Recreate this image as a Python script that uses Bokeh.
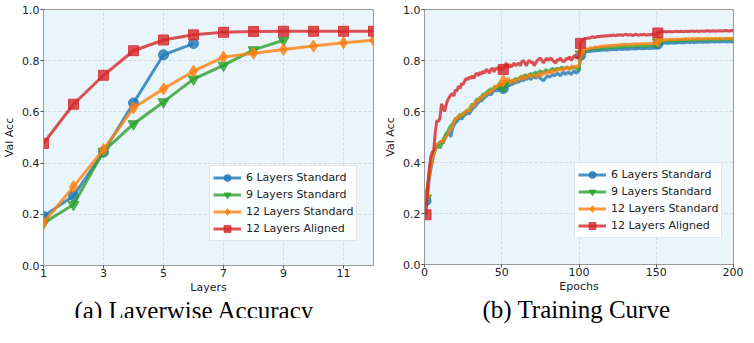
from bokeh.plotting import figure
from bokeh.models import Legend, LegendItem, FixedTicker, NumeralTickFormatter, Range1d, Title
from bokeh.layouts import row
from bokeh.embed import file_html
from bokeh.resources import INLINE

# ---------------- data ----------------
series_names = ["6 Layers Standard", "9 Layers Standard", "12 Layers Standard", "12 Layers Aligned"]
colors = ["#1f77b4", "#2ca02c", "#ff7f0e", "#d62728"]
markers = ["circle", "inverted_triangle", "diamond", "square"]
captions = ["(a) Layerwise Accuracy", "(b) Training Curve"]

# (a) layerwise accuracy
layers_6 = [1, 2, 3, 4, 5, 6]
acc_6 = [0.192, 0.272, 0.443, 0.635, 0.823, 0.867]
layers_9 = [1, 2, 3, 4, 5, 6, 7, 8, 9]
acc_9 = [0.165, 0.238, 0.446, 0.553, 0.639, 0.728, 0.782, 0.842, 0.880]
layers_12 = [1, 2, 3, 4, 5, 6, 7, 8, 9, 10, 11, 12]
acc_12 = [0.167, 0.308, 0.453, 0.616, 0.690, 0.759, 0.814, 0.829, 0.844, 0.857, 0.870, 0.880]
acc_12_aligned = [0.477, 0.630, 0.743, 0.839, 0.881, 0.901, 0.911, 0.914, 0.915, 0.915, 0.915, 0.915]
layer_ticks = [1, 3, 5, 7, 9, 11]
acc_ticks = [0.0, 0.2, 0.4, 0.6, 0.8, 1.0]

# (b) training curve (val acc per epoch)
epochs = list(range(1, 201))
marker_epochs = [1, 51, 101, 151]
epoch_ticks = [0, 50, 100, 150, 200]

curve_6 = [
    0.25, 0.27, 0.33, 0.37, 0.40, 0.43, 0.45, 0.465, 0.47, 0.48,
    0.48, 0.475, 0.49, 0.505, 0.51, 0.52, 0.50, 0.53, 0.545, 0.555,
    0.56, 0.57, 0.575, 0.57, 0.58, 0.585, 0.59, 0.595, 0.59, 0.60,
    0.61, 0.615, 0.62, 0.63, 0.635, 0.645, 0.64, 0.65, 0.655, 0.66,
    0.665, 0.67, 0.665, 0.675, 0.68, 0.685, 0.68, 0.69, 0.695, 0.685,
    0.69, 0.70, 0.695, 0.705, 0.70, 0.71, 0.705, 0.715, 0.71, 0.72,
    0.715, 0.72, 0.725, 0.72, 0.73, 0.725, 0.735, 0.73, 0.725, 0.735,
    0.74, 0.73, 0.735, 0.74, 0.73, 0.725, 0.72, 0.73, 0.735, 0.74,
    0.735, 0.74, 0.745, 0.74, 0.745, 0.75, 0.745, 0.74, 0.75, 0.755,
    0.745, 0.75, 0.755, 0.75, 0.745, 0.755, 0.76, 0.75, 0.755, 0.76,
    0.82, 0.825, 0.83, 0.832, 0.834, 0.836, 0.835, 0.838, 0.837, 0.839,
    0.838, 0.840, 0.839, 0.841, 0.840, 0.842, 0.841, 0.840, 0.842, 0.843,
    0.842, 0.844, 0.843, 0.842, 0.844, 0.845, 0.844, 0.843, 0.845, 0.846,
    0.845, 0.844, 0.846, 0.847, 0.846, 0.845, 0.847, 0.846, 0.848, 0.847,
    0.846, 0.848, 0.847, 0.849, 0.848, 0.847, 0.849, 0.848, 0.850, 0.849,
    0.864, 0.866, 0.867, 0.868, 0.867, 0.869, 0.868, 0.867, 0.869, 0.870,
    0.869, 0.868, 0.870, 0.869, 0.871, 0.870, 0.869, 0.871, 0.870, 0.872,
    0.871, 0.870, 0.872, 0.871, 0.870, 0.872, 0.871, 0.873, 0.872, 0.871,
    0.873, 0.872, 0.871, 0.873, 0.872, 0.874, 0.873, 0.872, 0.874, 0.873,
    0.872, 0.874, 0.873, 0.874, 0.873, 0.872, 0.874, 0.873, 0.874, 0.873,
]
curve_9 = [
    0.26, 0.31, 0.35, 0.39, 0.42, 0.44, 0.455, 0.46, 0.47, 0.455,
    0.47, 0.49, 0.50, 0.515, 0.52, 0.535, 0.545, 0.55, 0.56, 0.57,
    0.575, 0.58, 0.59, 0.58, 0.595, 0.59, 0.605, 0.60, 0.61, 0.62,
    0.63, 0.625, 0.64, 0.65, 0.645, 0.655, 0.66, 0.67, 0.665, 0.675,
    0.68, 0.685, 0.69, 0.685, 0.695, 0.70, 0.69, 0.705, 0.695, 0.68,
    0.70, 0.71, 0.705, 0.715, 0.72, 0.715, 0.72, 0.725, 0.73, 0.725,
    0.73, 0.735, 0.74, 0.73, 0.745, 0.74, 0.735, 0.745, 0.75, 0.74,
    0.75, 0.755, 0.745, 0.755, 0.76, 0.75, 0.755, 0.76, 0.765, 0.755,
    0.76, 0.765, 0.77, 0.76, 0.765, 0.77, 0.765, 0.77, 0.775, 0.765,
    0.77, 0.775, 0.77, 0.765, 0.775, 0.77, 0.775, 0.77, 0.765, 0.76,
    0.825, 0.83, 0.835, 0.838, 0.84, 0.842, 0.843, 0.845, 0.844, 0.846,
    0.847, 0.848, 0.847, 0.849, 0.850, 0.849, 0.851, 0.850, 0.852, 0.851,
    0.852, 0.853, 0.852, 0.854, 0.853, 0.855, 0.854, 0.853, 0.855, 0.856,
    0.855, 0.854, 0.856, 0.855, 0.857, 0.856, 0.855, 0.857, 0.856, 0.858,
    0.857, 0.856, 0.858, 0.857, 0.859, 0.858, 0.857, 0.859, 0.858, 0.859,
    0.872, 0.874, 0.875, 0.876, 0.875, 0.877, 0.876, 0.877, 0.878, 0.877,
    0.878, 0.877, 0.878, 0.879, 0.878, 0.877, 0.879, 0.878, 0.879, 0.880,
    0.879, 0.878, 0.880, 0.879, 0.880, 0.881, 0.880, 0.879, 0.881, 0.880,
    0.881, 0.880, 0.882, 0.881, 0.880, 0.882, 0.881, 0.882, 0.881, 0.882,
    0.883, 0.882, 0.881, 0.883, 0.882, 0.883, 0.882, 0.884, 0.883, 0.882,
]
curve_12 = [
    0.27, 0.30, 0.34, 0.38, 0.41, 0.43, 0.45, 0.47, 0.475, 0.48,
    0.485, 0.48, 0.49, 0.50, 0.51, 0.525, 0.53, 0.54, 0.56, 0.575,
    0.57, 0.585, 0.58, 0.59, 0.585, 0.60, 0.595, 0.61, 0.60, 0.615,
    0.625, 0.62, 0.635, 0.645, 0.64, 0.655, 0.65, 0.665, 0.66, 0.67,
    0.675, 0.67, 0.685, 0.68, 0.69, 0.70, 0.695, 0.705, 0.71, 0.70,
    0.72, 0.715, 0.725, 0.73, 0.72, 0.71, 0.725, 0.72, 0.715, 0.73,
    0.725, 0.73, 0.74, 0.725, 0.735, 0.73, 0.745, 0.74, 0.735, 0.74,
    0.745, 0.74, 0.735, 0.75, 0.745, 0.74, 0.755, 0.75, 0.745, 0.755,
    0.76, 0.75, 0.755, 0.765, 0.755, 0.76, 0.77, 0.765, 0.76, 0.77,
    0.765, 0.775, 0.77, 0.765, 0.775, 0.78, 0.77, 0.775, 0.78, 0.775,
    0.83, 0.835, 0.84, 0.843, 0.845, 0.846, 0.848, 0.85, 0.849, 0.852,
    0.853, 0.851, 0.854, 0.856, 0.855, 0.857, 0.856, 0.858, 0.857, 0.859,
    0.858, 0.860, 0.859, 0.861, 0.860, 0.862, 0.861, 0.863, 0.862, 0.864,
    0.863, 0.862, 0.864, 0.863, 0.865, 0.864, 0.866, 0.865, 0.864, 0.866,
    0.865, 0.867, 0.866, 0.865, 0.867, 0.866, 0.868, 0.867, 0.866, 0.868,
    0.876, 0.879, 0.880, 0.881, 0.880, 0.882, 0.881, 0.882, 0.883, 0.882,
    0.883, 0.882, 0.884, 0.883, 0.882, 0.884, 0.883, 0.884, 0.885, 0.884,
    0.885, 0.884, 0.886, 0.885, 0.884, 0.886, 0.885, 0.886, 0.885, 0.884,
    0.886, 0.885, 0.886, 0.887, 0.885, 0.886, 0.885, 0.887, 0.886, 0.885,
    0.887, 0.886, 0.885, 0.887, 0.886, 0.887, 0.886, 0.885, 0.887, 0.886,
]
curve_12_aligned = [
    0.195, 0.30, 0.37, 0.42, 0.44, 0.45, 0.52, 0.565, 0.56, 0.575,
    0.63, 0.615, 0.60, 0.625, 0.645, 0.655, 0.665, 0.67, 0.66, 0.685,
    0.68, 0.70, 0.69, 0.71, 0.705, 0.72, 0.73, 0.725, 0.735, 0.73,
    0.74, 0.73, 0.745, 0.75, 0.74, 0.755, 0.745, 0.76, 0.75, 0.765,
    0.76, 0.75, 0.765, 0.77, 0.755, 0.77, 0.765, 0.775, 0.76, 0.77,
    0.765, 0.78, 0.79, 0.77, 0.785, 0.775, 0.78, 0.79, 0.78, 0.785,
    0.79, 0.78, 0.795, 0.80, 0.79, 0.78, 0.795, 0.80, 0.79, 0.795,
    0.78, 0.79, 0.80, 0.805, 0.81, 0.80, 0.79, 0.80, 0.81, 0.80,
    0.805, 0.81, 0.80, 0.795, 0.79, 0.805, 0.80, 0.81, 0.80, 0.795,
    0.80, 0.81, 0.805, 0.815, 0.80, 0.81, 0.82, 0.81, 0.815, 0.81,
    0.867, 0.878, 0.884, 0.887, 0.885, 0.889, 0.888, 0.891, 0.893, 0.890,
    0.892, 0.895, 0.893, 0.896, 0.894, 0.897, 0.895, 0.898, 0.896, 0.899,
    0.897, 0.900, 0.898, 0.897, 0.901, 0.899, 0.902, 0.898, 0.900, 0.903,
    0.901, 0.899, 0.902, 0.900, 0.898, 0.901, 0.903, 0.900, 0.899, 0.902,
    0.900, 0.903, 0.901, 0.899, 0.902, 0.900, 0.903, 0.901, 0.902, 0.904,
    0.908, 0.912, 0.913, 0.912, 0.914, 0.913, 0.912, 0.914, 0.913, 0.914,
    0.913, 0.914, 0.915, 0.913, 0.914, 0.915, 0.914, 0.913, 0.915, 0.914,
    0.915, 0.914, 0.916, 0.915, 0.914, 0.916, 0.915, 0.914, 0.916, 0.915,
    0.916, 0.915, 0.917, 0.916, 0.915, 0.916, 0.917, 0.916, 0.915, 0.917,
    0.916, 0.917, 0.916, 0.917, 0.918, 0.917, 0.916, 0.917, 0.918, 0.917,
]

# ---------------- styling helpers ----------------
FONT = "DejaVu Sans"
BG = "#eaf4fb"


def style(p):
    p.background_fill_color = BG
    p.border_fill_color = "white"
    p.outline_line_color = "#9a9a9a"
    p.outline_line_width = 1
    for ax in p.axis:
        ax.axis_line_color = "#9a9a9a"
        ax.major_tick_line_color = "#555555"
        ax.major_tick_out = 3
        ax.major_tick_in = 0
        ax.minor_tick_line_color = None
        ax.major_label_text_font = FONT
        ax.major_label_text_font_size = "11px"
        ax.major_label_text_color = "#222222"
        ax.axis_label_text_font = FONT
        ax.axis_label_text_font_size = "11px"
        ax.axis_label_text_font_style = "normal"
        ax.axis_label_text_color = "#222222"
    for ax in p.xaxis:
        ax.major_label_standoff = 0
        ax.axis_label_standoff = 1
    for ax in p.yaxis:
        ax.major_label_standoff = 1
        ax.axis_label_standoff = 3
    for g in p.grid:
        g.grid_line_color = "#c8c8c8"
        g.grid_line_dash = "3 2"
        g.grid_line_width = 0.8
        g.grid_line_alpha = 0.8


def make_legend(p, items, loc):
    leg = Legend(items=items, location=loc)
    leg.label_text_font = FONT
    leg.label_text_font_size = "11px"
    leg.label_text_color = "#222222"
    leg.label_height = 17
    leg.glyph_height = 17
    leg.glyph_width = 28
    leg.label_standoff = 5
    leg.spacing = 0
    leg.padding = 3
    leg.margin = 0
    leg.background_fill_color = "white"
    leg.background_fill_alpha = 0.85
    leg.border_line_color = "#cccccc"
    leg.border_line_width = 1
    p.add_layout(leg)


def add_caption(p, text, offset):
    t = Title(text=text, align="left", offset=offset, vertical_align="top",
              text_font="Liberation Serif", text_font_size="25px",
              text_font_style="normal", text_color="black", standoff=0)
    p.add_layout(t, "below")


# ---------------- (a) Layerwise accuracy ----------------
p1 = figure(frame_width=330, frame_height=256, output_backend="svg", toolbar_location=None,
            x_range=Range1d(1, 12), y_range=Range1d(0, 1),
            min_border_left=39, min_border_right=8, min_border_top=2, min_border_bottom=20)
p1.xaxis.axis_label = "Layers"
p1.yaxis.axis_label = "Val Acc"
p1.xaxis.ticker = FixedTicker(ticks=layer_ticks)
p1.yaxis.ticker = FixedTicker(ticks=acc_ticks)
p1.yaxis.formatter = NumeralTickFormatter(format="0.0")
style(p1)

xs_a = [layers_6, layers_9, layers_12, layers_12]
ys_a = [acc_6, acc_9, acc_12, acc_12_aligned]
sizes = [10, 11, 12, 10]
items_a = []
for name, c, m, xs, ys, s in zip(series_names, colors, markers, xs_a, ys_a, sizes):
    l = p1.line(xs, ys, line_color=c, line_width=3, line_alpha=0.8)
    sc = p1.scatter(xs, ys, marker=m, size=s, fill_color=c, line_color=c,
                    fill_alpha=0.8, line_alpha=0.8)
    items_a.append(LegendItem(label=name, renderers=[l, sc]))
make_legend(p1, items_a, (166, 24))
add_caption(p1, captions[0], 31)

# ---------------- (b) Training curve ----------------
p2 = figure(frame_width=309, frame_height=255, output_backend="svg", toolbar_location=None,
            x_range=Range1d(0, 200), y_range=Range1d(0, 1),
            min_border_left=39, min_border_right=10, min_border_top=9, min_border_bottom=20)
p2.xaxis.axis_label = "Epochs"
p2.yaxis.axis_label = "Val Acc"
p2.xaxis.ticker = FixedTicker(ticks=epoch_ticks)
p2.yaxis.ticker = FixedTicker(ticks=acc_ticks)
p2.yaxis.formatter = NumeralTickFormatter(format="0.0")
style(p2)

curves = [curve_6, curve_9, curve_12, curve_12_aligned]
items_b = []
for name, c, m, ys, s in zip(series_names, colors, markers, curves, sizes):
    l = p2.line(epochs, ys, line_color=c, line_width=3, line_alpha=0.8)
    my = [ys[epochs.index(e)] for e in marker_epochs]
    sc = p2.scatter(marker_epochs, my, marker=m, size=s, fill_color=c, line_color=c,
                    fill_alpha=0.8, line_alpha=0.8)
    items_b.append(LegendItem(label=name, renderers=[l, sc]))
make_legend(p2, items_b, (150, 26))
add_caption(p2, captions[1], 58)

layout = row(p1, p2)
open("out.html", "w").write(file_html(layout, INLINE))
